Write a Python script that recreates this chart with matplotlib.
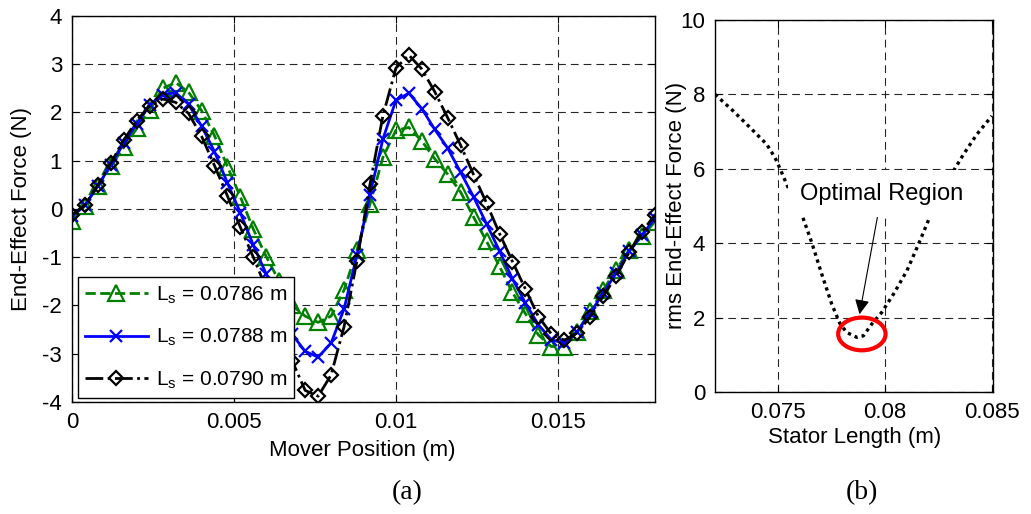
import matplotlib
matplotlib.use("Agg")
import matplotlib.pyplot as plt
import numpy as np
from matplotlib.patches import Ellipse

plt.rcParams['font.family'] = ['Liberation Sans', 'DejaVu Sans']
plt.rcParams['mathtext.fontset'] = 'custom'
plt.rcParams['mathtext.rm'] = 'Liberation Sans'
plt.rcParams['axes.unicode_minus'] = False

# end-effect force vs mover position for three stator lengths
mover_step = 0.0004
force_ls0786 = [-0.25, 0.07, 0.48, 0.89, 1.28, 1.67, 2.05, 2.50, 2.62, 2.42,
                2.04, 1.52, 0.88, 0.25, -0.42, -0.99, -1.50, -2.00, -2.22, -2.35,
                -2.22, -1.68, -0.85, 0.10, 1.07, 1.63, 1.69, 1.41, 1.04, 0.72,
                0.35, -0.17, -0.67, -1.19, -1.73, -2.17, -2.61, -2.85, -2.85, -2.54,
                -2.12, -1.68, -1.26, -0.85, -0.57, -0.26]
force_ls0788 = [-0.15, 0.08, 0.48, 0.92, 1.36, 1.77, 2.15, 2.37, 2.41, 2.17,
                1.72, 1.19, 0.54, -0.08, -0.75, -1.35, -1.95, -2.60, -2.95, -3.07,
                -2.78, -2.07, -0.95, 0.30, 1.45, 2.25, 2.40, 2.08, 1.65, 1.26,
                0.76, 0.25, -0.31, -0.87, -1.45, -1.95, -2.40, -2.71, -2.78, -2.54,
                -2.16, -1.74, -1.33, -0.88, -0.54, -0.19]
force_ls0790 = [-0.12, 0.08, 0.50, 0.95, 1.43, 1.83, 2.14, 2.28, 2.21, 1.98,
                1.51, 0.90, 0.27, -0.38, -1.00, -1.65, -2.40, -3.15, -3.76, -3.88,
                -3.44, -2.44, -1.07, 0.51, 1.93, 2.92, 3.19, 2.90, 2.43, 1.89,
                1.32, 0.71, 0.12, -0.51, -1.09, -1.66, -2.23, -2.59, -2.72, -2.57,
                -2.23, -1.81, -1.39, -0.90, -0.47, -0.12]
series_labels = [r'L$_{\rm s}$ = 0.0786 m', r'L$_{\rm s}$ = 0.0788 m', r'L$_{\rm s}$ = 0.0790 m']

# rms end-effect force vs stator length
stator_len = [0.07203, 0.07289, 0.07367, 0.07445, 0.07484, 0.07508, 0.07542, 0.07609,
              0.07656, 0.07703, 0.07750, 0.07789, 0.07820, 0.07867, 0.07898, 0.07938,
              0.07984, 0.08039, 0.08102, 0.08156, 0.08211, 0.08320, 0.08367, 0.08430,
              0.08500]
rms_force = [8.00, 7.55, 7.11, 6.66, 6.30, 6.00, 5.54, 4.78,
             4.02, 3.17, 2.36, 1.83, 1.60, 1.47, 1.51, 1.83,
             2.14, 2.63, 3.26, 3.97, 4.73, 5.94, 6.39, 6.93,
             7.42]
optimum_len = 0.07891
optimum_rms = 1.56

x_pos = np.arange(len(force_ls0786)) * mover_step

fig = plt.figure(figsize=(10.31, 5.14), dpi=100)
ax1 = fig.add_axes([0.0698, 0.2179, 0.5655, 0.7510])
ax2 = fig.add_axes([0.6935, 0.2374, 0.2696, 0.7237])

grid_kw = dict(color='0.15', linestyle=(0, (7, 4.5)), linewidth=0.8)

ax1.plot(x_pos, force_ls0786, '--', color='#008000', lw=2, marker='^',
         ms=11, mfc='none', mew=1.6, label=series_labels[0])
ax1.plot(x_pos, force_ls0788, '-', color='#0000ff', lw=2, marker='x',
         ms=8, mew=1.6, label=series_labels[1])
ax1.plot(x_pos, force_ls0790, '-.', color='k', lw=2, marker='D',
         ms=7.5, mfc='none', mew=1.6, label=series_labels[2])
ax1.set_xlim(0, 0.018)
ax1.set_ylim(-4, 4)
ax1.set_xticks([0, 0.005, 0.01, 0.015])
ax1.set_xticklabels(['0', '0.005', '0.01', '0.015'])
ax1.set_yticks(range(-4, 5))
ax1.set_yticklabels([str(v) for v in range(-4, 5)])
ax1.grid(True, **grid_kw)
leg = ax1.legend(loc='lower left', bbox_to_anchor=(0.01, 0.01), borderaxespad=0,
                 fontsize=15, handlelength=3.0, handletextpad=0.4,
                 labelspacing=1.0, borderpad=0.35, fancybox=False,
                 framealpha=1, edgecolor='k')
leg.get_frame().set_linewidth(1.0)

ax2.plot(stator_len, rms_force, color='k', lw=2.4, linestyle=(0, (1, 1.2)))
ax2.add_patch(Ellipse((optimum_len, optimum_rms), 0.00222, 0.88,
                      fill=False, edgecolor='#ff0000', lw=3, zorder=5))
ax2.annotate('Optimal Region', xy=(0.0788, 2.09), xytext=(0.07984, 5.33),
             ha='center', va='center', fontsize=17, zorder=6,
             bbox=dict(facecolor='white', edgecolor='none', pad=9),
             arrowprops=dict(arrowstyle='-|>', color='k', lw=0.8,
                             mutation_scale=22, shrinkA=0, shrinkB=0))
ax2.set_xlim(0.07203, 0.08505)
ax2.set_ylim(0, 10)
ax2.set_xticks([0.075, 0.08, 0.085])
ax2.set_xticklabels(['0.075', '0.08', '0.085'])
ax2.set_yticks(range(0, 11, 2))
ax2.grid(True, **grid_kw)

for ax in (ax1, ax2):
    ax.set_axisbelow(True)
    ax.tick_params(direction='in', length=5, width=0.8, top=True, right=True,
                   labelsize=16, pad=7)
    for sp in ax.spines.values():
        sp.set_linewidth(1.0)
        sp.set_color('k')

fig.text(0.351, 0.1226, 'Mover Position (m)', ha='center', va='center', fontsize=16)
fig.text(0.829, 0.148, 'Stator Length (m)', ha='center', va='center', fontsize=16)
fig.text(0.0213, 0.593, 'End-Effect Force (N)', ha='center', va='center',
         rotation=90, fontsize=16)
fig.text(0.6557, 0.601, 'rms End-Effect Force (N)', ha='center', va='center',
         rotation=90, fontsize=16)
fig.text(0.3948, 0.041, '(a)', ha='center', va='center', fontsize=20,
         family='Liberation Serif')
fig.text(0.836, 0.041, '(b)', ha='center', va='center', fontsize=20,
         family='Liberation Serif')

fig.savefig('out.png', dpi=100)
